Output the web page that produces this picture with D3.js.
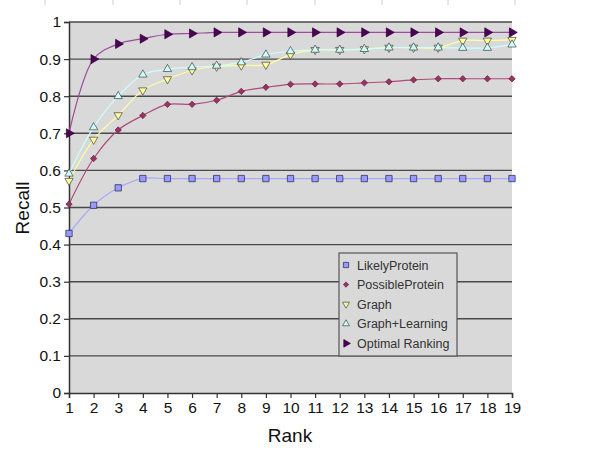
<!DOCTYPE html>
<html><head><meta charset="utf-8">
<script src="https://cdn.jsdelivr.net/npm/d3@7"></script>
<style>body{margin:0;background:#fff}svg{display:block}text{font-family:"Liberation Sans",Arial,sans-serif}</style>
</head><body><svg id="c" width="600" height="450"></svg>
<script>
const ranks = [1,2,3,4,5,6,7,8,9,10,11,12,13,14,15,16,17,18,19];
const yTicks = [0,0.1,0.2,0.3,0.4,0.5,0.6,0.7,0.8,0.9,1];
const seriesNames = ["LikelyProtein","PossibleProtein","Graph","Graph+Learning","Optimal Ranking"];
const likelyProtein   = [0.430,0.506,0.553,0.578,0.578,0.578,0.578,0.578,0.578,0.578,0.578,0.578,0.578,0.578,0.578,0.578,0.578,0.578,0.578];
const possibleProtein = [0.509,0.632,0.709,0.748,0.778,0.778,0.789,0.813,0.824,0.832,0.833,0.833,0.836,0.839,0.844,0.847,0.847,0.847,0.847];
const graph           = [0.572,0.683,0.749,0.816,0.846,0.870,0.880,0.883,0.885,0.912,0.925,0.925,0.927,0.931,0.931,0.931,0.950,0.950,0.952];
const graphLearning   = [0.591,0.716,0.800,0.858,0.873,0.878,0.882,0.891,0.912,0.921,0.925,0.925,0.927,0.931,0.931,0.931,0.930,0.930,0.939];
const optimal         = [0.700,0.900,0.941,0.955,0.967,0.969,0.972,0.972,0.972,0.972,0.972,0.972,0.972,0.972,0.972,0.972,0.972,0.972,0.972];

const FONT = "'Liberation Sans', Arial, sans-serif";
const svg = d3.select("#c");
const L = 69, R = 512, T = 22, B = 393;
const x = d3.scaleLinear().domain([1,19]).range([L,R]);
const y = d3.scaleLinear().domain([0,1]).range([B,T]);

// top artifact ticks
svg.append("g").selectAll("line").data([45,113,180,247,315,382,448,515]).join("line")
  .attr("x1",d=>d).attr("x2",d=>d).attr("y1",0).attr("y2",5).attr("stroke","#ccc");

svg.append("rect").attr("x",L).attr("y",T).attr("width",R-L).attr("height",B-T).attr("fill","#d9d9d9");

// gridlines
svg.append("g").selectAll("line").data(yTicks.slice(1)).join("line")
  .attr("x1",L).attr("x2",R).attr("y1",d=>y(d)).attr("y2",d=>y(d))
  .attr("stroke","#4a4a4a").attr("stroke-width",1.4);

// axes
const yAxis = svg.append("g").attr("transform",`translate(${L},0)`)
  .call(d3.axisLeft(y).tickValues(yTicks).tickFormat(d=>d===0?"0":d===1?"1":d3.format(".1f")(d)).tickSize(5).tickPadding(3));
const xAxis = svg.append("g").attr("transform",`translate(0,${B})`)
  .call(d3.axisBottom(x).tickValues(ranks).tickFormat(d3.format("d")).tickSize(5).tickPadding(4));
[yAxis,xAxis].forEach(a=>{
  a.attr("font-family",FONT);
  a.select(".domain").attr("stroke","#333").attr("stroke-width",1.5);
  a.selectAll(".tick line").attr("stroke","#333").attr("stroke-width",1.2);
  a.selectAll("text").attr("font-size",15.5).attr("fill","#111").attr("font-family",FONT);
});

svg.append("text").attr("x",290).attr("y",442).attr("text-anchor","middle").attr("font-family",FONT).attr("font-size",19).attr("fill","#111").text("Rank");
svg.append("text").attr("transform","translate(29,208) rotate(-90)").attr("text-anchor","middle").attr("font-family",FONT).attr("font-size",19).attr("fill","#111").text("Recall");

const series = [
  {name:seriesNames[0], values:likelyProtein, line:"#a8a8ff", fill:"#9999ff", stroke:"#222255", sym:d3.symbolSquare, size:40, rot:0},
  {name:seriesNames[1], values:possibleProtein, line:"#b04a78", fill:"#993366", stroke:"#662244", sym:d3.symbolDiamond2, size:26, rot:0},
  {name:seriesNames[2], values:graph, line:"#ffffa0", fill:"#ffff99", stroke:"#444", sym:d3.symbolTriangle, size:30, rot:180},
  {name:seriesNames[3], values:graphLearning, line:"#ccffff", fill:"#ccffff", stroke:"#444", sym:d3.symbolTriangle, size:30, rot:0},
  {name:seriesNames[4], values:optimal, line:"#9b4d9b", fill:"#4d0057", stroke:"#330033", sym:d3.symbolTriangle, size:36, rot:90}
];

const line = d3.line().x((d,i)=>x(ranks[i])).y(d=>y(d)).curve(d3.curveCatmullRom.alpha(0.5));
series.forEach(s=>{
  svg.append("path").attr("d",line(s.values)).attr("fill","none").attr("stroke",s.line).attr("stroke-width",1.2);
});
series.forEach(s=>{
  svg.append("g").selectAll("path").data(s.values).join("path")
    .attr("d",d3.symbol(s.sym,s.size))
    .attr("transform",(d,i)=>`translate(${x(ranks[i])},${y(d)}) rotate(${s.rot})`)
    .attr("fill",s.fill).attr("stroke",s.stroke).attr("stroke-width",0.7);
});

// legend
const lg = svg.append("g").attr("transform","translate(339,253)");
lg.append("rect").attr("width",118).attr("height",103).attr("fill","#d9d9d9").attr("stroke","#555").attr("stroke-width",1.2);
series.forEach((s,i)=>{
  const yy = 12 + i*19.6;
  lg.append("path").attr("d",d3.symbol(s.sym,s.size*0.7)).attr("transform",`translate(7,${yy}) rotate(${s.rot})`)
    .attr("fill",s.fill).attr("stroke",s.stroke).attr("stroke-width",0.7);
  lg.append("text").attr("x",18).attr("y",yy+4.5).attr("font-family",FONT).attr("font-size",12.5).attr("fill","#333").text(s.name);
});
</script></body></html>
